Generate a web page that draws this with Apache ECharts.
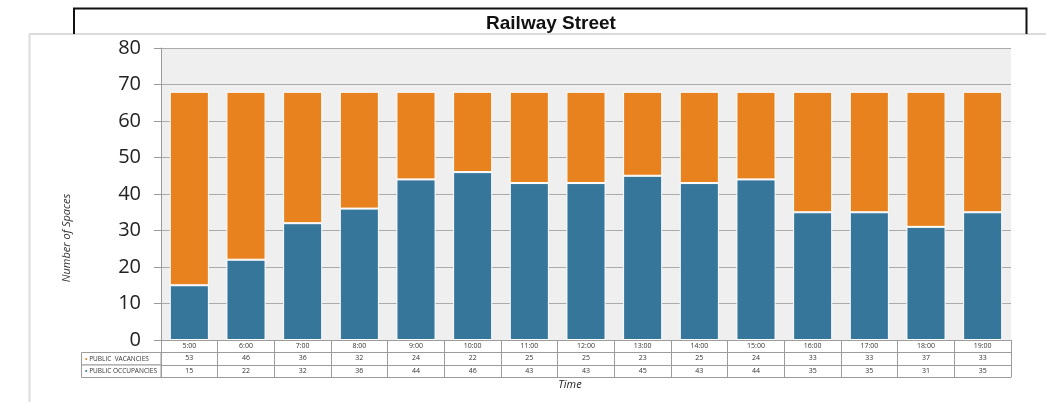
<!DOCTYPE html>
<html>
<head>
<meta charset="utf-8">
<script src="https://cdn.jsdelivr.net/npm/echarts/dist/echarts.min.js"></script>
<style>
  html, body { margin: 0; padding: 0; background: #fff; }
  #chart { width: 1046px; height: 402px; }
</style>
</head>
<body>
<div id="chart"></div>
<script>
// Hourly parking counts for Railway Street
const times = ['5:00','6:00','7:00','8:00','9:00','10:00','11:00','12:00','13:00','14:00','15:00','16:00','17:00','18:00','19:00'];
const vacancies   = [53, 46, 36, 32, 24, 22, 25, 25, 23, 25, 24, 33, 33, 37, 33];
const occupancies = [15, 22, 32, 36, 44, 46, 43, 43, 45, 43, 44, 35, 35, 31, 35];
const rowNames = ['PUBLIC  VACANCIES', 'PUBLIC OCCUPANCIES'];
const yMin = 0, yMax = 80, yStep = 10;
const titleText = 'Railway Street';
const xTitle = 'Time';
const yTitle = 'Number of Spaces';

const ORANGE = '#E8821F';
const BLUE = '#36769B';
const TABLE_LINE = '#9c9c9c';
const FONT = '"Open Sans", "Noto Sans", sans-serif';

const chart = echarts.init(document.getElementById('chart'), null, { renderer: 'canvas' });

// one category axis per table row; the first one carries the bars
function tableAxis(offset, labels, extra) {
  return Object.assign({
    type: 'category',
    data: times,
    position: 'bottom',
    offset: offset,
    gridIndex: 0,
    boundaryGap: true,
    axisLine: { show: true, lineStyle: { color: TABLE_LINE, width: 1 } },
    axisTick: { show: false },
    axisLabel: {
      show: !!labels,
      interval: 0,
      fontSize: 7,
      lineHeight: 8,
      margin: 2,
      color: '#333',
      fontFamily: FONT,
      formatter: labels ? (v, i) => String(labels[i]) : undefined
    },
    splitLine: { show: false }
  }, extra || {});
}

const option = {
  animation: false,
  backgroundColor: '#ffffff',
  grid: {
    left: 161, right: 35, top: 48, bottom: 62,
    show: true, backgroundColor: '#efefef', borderWidth: 0
  },
  xAxis: [
    tableAxis(0, times, {
      axisTick: { show: true, interval: 0, length: 37, lineStyle: { color: TABLE_LINE, width: 1 } }
    }),
    tableAxis(12, vacancies),
    tableAxis(25, occupancies),
    tableAxis(37, null)
  ],
  yAxis: {
    type: 'value',
    min: yMin, max: yMax, interval: yStep,
    axisLine: { show: true, lineStyle: { color: '#9a9a9a', width: 1 } },
    axisTick: { show: true, length: 7, lineStyle: { color: '#9a9a9a' } },
    axisLabel: { fontSize: 20, color: '#222', margin: 20, fontFamily: FONT },
    splitLine: { show: true, lineStyle: { color: '#ababab', width: 1 } }
  },
  series: [
    {
      name: rowNames[1], type: 'bar', stack: 'spaces', xAxisIndex: 0,
      data: occupancies, barWidth: '69%',
      itemStyle: { color: BLUE, borderColor: '#ffffff', borderWidth: 1 }
    },
    {
      name: rowNames[0], type: 'bar', stack: 'spaces', xAxisIndex: 0,
      data: vacancies, barWidth: '69%',
      itemStyle: { color: ORANGE, borderColor: '#ffffff', borderWidth: 1 }
    }
  ],
  graphic: [
    // outer panel edges
    { type: 'line', shape: { x1: 29.5, y1: 34, x2: 29.5, y2: 402 }, style: { stroke: '#dcdcdc', lineWidth: 2 }, z: 1 },
    { type: 'line', shape: { x1: 29, y1: 34, x2: 1046, y2: 34 }, style: { stroke: '#dcdcdc', lineWidth: 2 }, z: 1 },
    // title box
    { type: 'polyline', shape: { points: [[74, 34], [74, 8.5], [1026.5, 8.5], [1026.5, 34]] }, style: { stroke: '#111', lineWidth: 2, fill: null }, z: 2 },
    {
      type: 'text', x: 551, y: 24, z: 3,
      style: { text: titleText, font: 'bold 19px "Liberation Sans", Arial, sans-serif', fill: '#111', textAlign: 'center', textVerticalAlign: 'middle' }
    },
    // axis titles
    {
      type: 'text', x: 67, y: 238, rotation: Math.PI / 2, z: 3,
      style: { text: yTitle, font: 'italic 11px ' + FONT, fill: '#333', textAlign: 'center', textVerticalAlign: 'middle' }
    },
    {
      type: 'text', x: 570, y: 385, z: 3,
      style: { text: xTitle, font: 'italic 11px ' + FONT, fill: '#222', textAlign: 'center', textVerticalAlign: 'middle' }
    },
    // row header cells of the data table
    { type: 'rect', shape: { x: 81.5, y: 352.5, width: 79.5, height: 12.5 }, style: { stroke: TABLE_LINE, fill: '#fff', lineWidth: 1 }, z: 3 },
    { type: 'rect', shape: { x: 81.5, y: 365, width: 79.5, height: 12.5 }, style: { stroke: TABLE_LINE, fill: '#fff', lineWidth: 1 }, z: 3 },
    {
      type: 'text', x: 85, y: 358.8, z: 4,
      style: {
        text: '{d|•} ' + rowNames[0], textVerticalAlign: 'middle',
        font: '6.5px ' + FONT, fill: '#333',
        rich: { d: { fill: ORANGE, fontSize: 7 } }
      }
    },
    {
      type: 'text', x: 85, y: 371.2, z: 4,
      style: {
        text: '{d|•} ' + rowNames[1], textVerticalAlign: 'middle',
        font: '6.5px ' + FONT, fill: '#333',
        rich: { d: { fill: BLUE, fontSize: 7 } }
      }
    }
  ]
};

chart.setOption(option);
</script>
</body>
</html>
